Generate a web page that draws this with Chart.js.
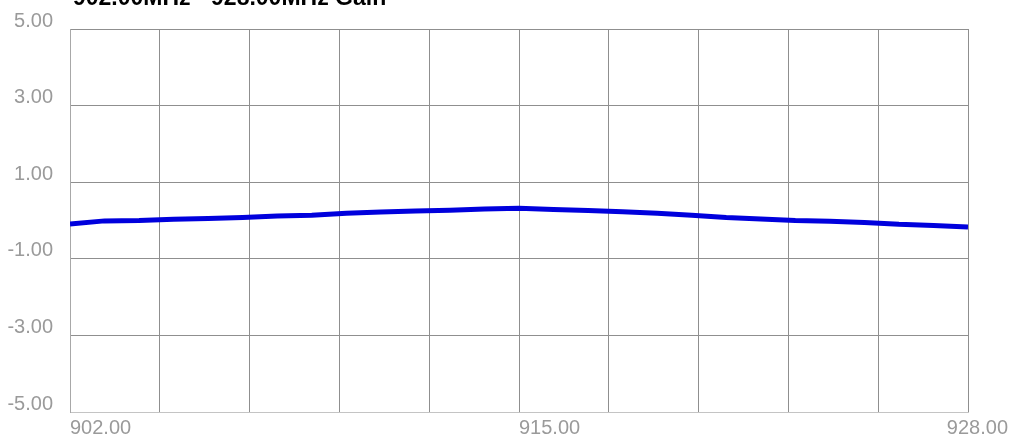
<!DOCTYPE html>
<html>
<head>
<meta charset="utf-8">
<script src="https://cdn.jsdelivr.net/npm/chart.js@4/dist/chart.umd.min.js"></script>
<style>
  body { margin: 0; background: #fff; }
  #wrap { width: 1009px; height: 441px; position: relative; }
</style>
</head>
<body>
<div id="wrap"><canvas id="gainChart"></canvas></div>
<script>
const titleText = '902.00MHz - 928.00MHz Gain';
const freqs = [902, 903, 904, 905, 906, 907, 908, 909, 910, 911, 912, 913, 914, 915,
               916, 917, 918, 919, 920, 921, 922, 923, 924, 925, 926, 927, 928];
const gain = [-0.09, -0.01, 0.00, 0.03, 0.05, 0.08, 0.12, 0.14, 0.19, 0.22, 0.25, 0.27, 0.30, 0.32,
              0.29, 0.26, 0.23, 0.19, 0.14, 0.08, 0.04, 0.00, -0.02, -0.05, -0.10, -0.13, -0.17];
const xLabels = [902, 915, 928];
const yMin = -5, yMax = 5, yStep = 2;
const xMin = 902, xMax = 928, xStep = 2.6;

const ctx = document.getElementById('gainChart').getContext('2d');

// title sits half off the top edge, like the original
const titlePlugin = {
    id: 'cutTitle',
    afterDraw(chart) {
        const c = chart.ctx;
        c.save();
        c.font = 'bold 23px "Liberation Sans", Arial, sans-serif';
        c.fillStyle = '#000';
        c.textBaseline = 'alphabetic';
        c.fillText(titleText, 73, 5);
        c.restore();
    }
};

// last x label is pulled back inside the canvas
const lastLabelPlugin = {
    id: 'lastLabel',
    beforeDraw(chart) {
        const items = chart.scales.x.getLabelItems(chart.chartArea);
        const last = items[items.length - 1];
        if (last && last.label) {
            last.options.textAlign = 'right';
            last.options.translation[0] = chart.width - 1;
        }
    }
};

const gainChart = new Chart(ctx, {
    type: 'line',
    data: {
        datasets: [{
            label: 'Gain',
            data: freqs.map((f, i) => ({ x: f, y: gain[i] })),
            borderColor: '#0000dd',
            borderWidth: 5,
            pointRadius: 0,
            tension: 0,
            fill: false
        }]
    },
    options: {
        responsive: true,
        maintainAspectRatio: false,
        animation: false,
        layout: { padding: { left: 0, right: 41, top: 28, bottom: 0 } },
        plugins: {
            legend: { display: false },
            tooltip: { enabled: false }
        },
        scales: {
            x: {
                type: 'linear',
                min: xMin,
                max: xMax,
                grid: { color: '#8f8f8f', drawTicks: false },
                border: { color: '#c4c4c4' },
                ticks: {
                    stepSize: xStep,
                    align: 'start',
                    padding: 4,
                    maxRotation: 0,
                    autoSkip: false,
                    color: '#9a9a9a',
                    font: { family: '"Liberation Sans", Arial, sans-serif', size: 20 },
                    callback: (v) => xLabels.some(l => Math.abs(l - v) < 0.01) ? Number(v).toFixed(2) : ''
                },
                afterFit(scale) {
                    scale.height = 29;
                    scale.paddingLeft = 0;
                    scale.paddingRight = 0;
                }
            },
            y: {
                min: yMin,
                max: yMax,
                grid: { color: '#8f8f8f', drawTicks: false },
                border: { color: '#a8a8a8' },
                ticks: {
                    stepSize: yStep,
                    padding: 17,
                    labelOffset: -8,
                    color: '#9a9a9a',
                    font: { family: '"Liberation Sans", Arial, sans-serif', size: 20 },
                    callback: (v) => Number(v).toFixed(2)
                },
                afterFit(scale) {
                    scale.width = 70;
                }
            }
        }
    },
    plugins: [titlePlugin, lastLabelPlugin]
});
</script>
</body>
</html>
